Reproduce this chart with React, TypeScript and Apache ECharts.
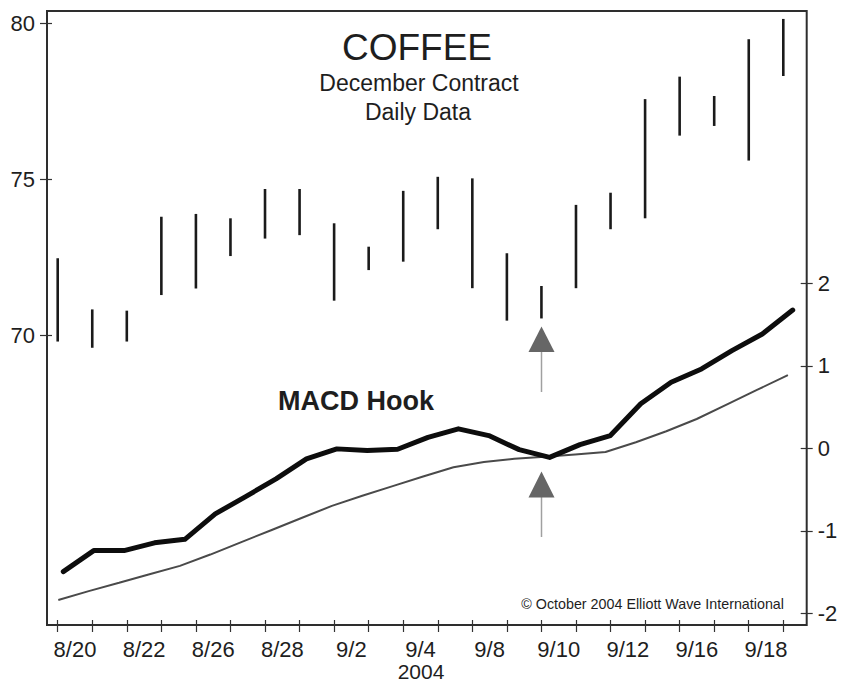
import React, { useEffect, useRef } from "react";
import * as echarts from "echarts";

// Trading days (one high-low bar each)
const barDays = [
  "8/19", "8/20", "8/23", "8/24", "8/25", "8/26", "8/27", "8/30", "8/31", "9/1", "9/2",
  "9/3", "9/7", "9/8", "9/9", "9/10", "9/13", "9/14", "9/15", "9/16", "9/17", "9/20",
];
const barHighs = [
  72.47, 70.83, 70.79, 73.8, 73.89, 73.75, 74.69, 74.69, 73.59, 72.84, 74.63,
  75.08, 75.03, 72.63, 71.58, 74.18, 74.57, 77.57, 78.29, 77.67, 79.49, 80.14,
];
const barLows = [
  69.8, 69.6, 69.8, 71.29, 71.5, 72.54, 73.1, 73.21, 71.11, 72.09, 72.36,
  73.4, 71.51, 70.47, 70.54, 71.51, 73.4, 73.75, 76.4, 76.71, 75.6, 78.31,
];

// Tick labels of the date axis
const dateLabels = ["8/20", "8/22", "8/26", "8/28", "9/2", "9/4", "9/8", "9/10", "9/12", "9/16", "9/18"];

// MACD (thick) and signal (thin) lines
const macdSteps = [
  "s1", "s2", "s3", "s4", "s5", "s6", "s7", "s8", "s9", "s10", "s11", "s12", "s13",
  "s14", "s15", "s16", "s17", "s18", "s19", "s20", "s21", "s22", "s23", "s24", "s25",
];
const macdValues = [
  -1.495, -1.24, -1.24, -1.146, -1.103, -0.795, -0.585, -0.37, -0.128, -0.007, -0.028, -0.012, 0.133,
  0.236, 0.154, -0.016, -0.11, 0.045, 0.154, 0.539, 0.801, 0.962, 1.184, 1.386, 1.676,
];
const signalValues = [
  -1.838, -1.731, -1.63, -1.527, -1.425, -1.288, -1.14, -0.993, -0.845, -0.698, -0.575, -0.458, -0.341,
  -0.229, -0.167, -0.127, -0.103, -0.074, -0.045, 0.074, 0.207, 0.355, 0.533, 0.711, 0.886,
];

const priceMin = 70;
const priceMax = 80;
const priceStep = 5;
const macdMin = -2;
const macdMax = 2;
const macdStep = 1;

const FONT = '"Liberation Sans", Arial, Helvetica, sans-serif';
const INK = "#1e1e1e";

export default function App() {
  const ref = useRef<HTMLDivElement>(null);

  useEffect(() => {
    if (!ref.current) return;
    const chart = echarts.init(ref.current, undefined, { renderer: "svg" });

    const W = 849;
    const H = 683;
    const frame = { l: 47, t: 11, r: 806.7, b: 625 };
    const price = { l: 57.7, r: 783.3, t: 23.3, b: 335.3 };
    const lab = { l: 40.45, r: 800.55 };
    const macdG = { l: 63.3, r: 792.7, t: 283.3, b: 613.3 };
    const sigG = { l: 58.3, r: 787.9 };

    const hiddenCat = (gridIndex: number, data: string[], boundaryGap = false) => ({
      type: "category",
      gridIndex,
      data,
      boundaryGap,
      show: false,
    });

    const option: any = {
      animation: false,
      backgroundColor: "#ffffff",
      textStyle: { fontFamily: FONT },
      grid: [
        {
          left: frame.l, top: frame.t, width: frame.r - frame.l, height: frame.b - frame.t,
          show: true, borderColor: "#2e2e2e", borderWidth: 2, backgroundColor: "transparent",
        },
        { left: price.l, right: W - price.r, top: price.t, bottom: H - price.b, show: false },
        { left: lab.l, right: W - lab.r, top: price.t, bottom: H - price.b, show: false },
        { left: macdG.l, right: W - macdG.r, top: macdG.t, bottom: H - macdG.b, show: false },
        { left: sigG.l, right: W - sigG.r, top: macdG.t, bottom: H - macdG.b, show: false },
      ],
      xAxis: [
        {
          type: "category", gridIndex: 1, data: barDays, boundaryGap: false, position: "bottom",
          offset: frame.b - price.b,
          axisLine: { show: false },
          axisTick: { show: true, interval: 0, inside: false, length: 7, lineStyle: { color: "#333", width: 1.2 } },
          axisLabel: { show: false },
          splitLine: { show: false },
        },
        {
          type: "category", gridIndex: 1, data: barDays, boundaryGap: false, position: "bottom",
          offset: frame.b - price.b,
          axisLine: { show: false },
          axisTick: { show: true, interval: 0, inside: true, length: 5, lineStyle: { color: "#333", width: 1.2 } },
          axisLabel: { show: false },
          splitLine: { show: false },
        },
        {
          type: "category", gridIndex: 2, data: dateLabels, boundaryGap: true, position: "bottom",
          offset: frame.b - price.b,
          axisLine: { show: false },
          axisTick: { show: false },
          axisLabel: { show: true, interval: 0, margin: 15, fontSize: 22, lineHeight: 18, color: INK, fontFamily: FONT },
          splitLine: { show: false },
        },
        hiddenCat(3, macdSteps),
        hiddenCat(4, macdSteps),
      ],
      yAxis: [
        {
          type: "value", gridIndex: 1, min: priceMin, max: priceMax, interval: priceStep, position: "left",
          offset: price.l - frame.l,
          axisLine: { show: false },
          axisTick: { show: true, inside: false, length: 7, lineStyle: { color: "#333", width: 1.2 } },
          axisLabel: { show: true, margin: 12, fontSize: 22, color: INK, fontFamily: FONT },
          splitLine: { show: false },
        },
        {
          type: "value", gridIndex: 1, min: priceMin, max: priceMax, interval: priceStep, position: "left",
          offset: price.l - frame.l,
          axisLine: { show: false },
          axisTick: { show: true, inside: true, length: 5, lineStyle: { color: "#333", width: 1.2 } },
          axisLabel: { show: false },
          splitLine: { show: false },
        },
        { type: "value", gridIndex: 2, min: 0, max: 1, show: false },
        {
          type: "value", gridIndex: 3, min: macdMin, max: macdMax, interval: macdStep, position: "right",
          offset: frame.r - macdG.r,
          axisLine: { show: false },
          axisTick: { show: true, inside: false, length: 6, lineStyle: { color: "#333", width: 1.2 } },
          axisLabel: { show: true, margin: 11, fontSize: 22, color: INK, fontFamily: FONT },
          splitLine: { show: false },
        },
        {
          type: "value", gridIndex: 3, min: macdMin, max: macdMax, interval: macdStep, position: "right",
          offset: frame.r - macdG.r,
          axisLine: { show: false },
          axisTick: { show: true, inside: true, length: 6, lineStyle: { color: "#333", width: 1.2 } },
          axisLabel: { show: false },
          splitLine: { show: false },
        },
        { type: "value", gridIndex: 4, min: macdMin, max: macdMax, show: false },
      ],
      series: [
        {
          name: "Coffee",
          type: "custom",
          xAxisIndex: 0,
          yAxisIndex: 0,
          clip: false,
          encode: { x: 0, y: [1, 2] },
          data: barDays.map((_, i) => [i, barLows[i], barHighs[i]]),
          renderItem: (params: any, api: any) => {
            const lo = api.coord([api.value(0), api.value(1)]);
            const hi = api.coord([api.value(0), api.value(2)]);
            return {
              type: "line",
              shape: { x1: lo[0], y1: lo[1], x2: hi[0], y2: hi[1] },
              style: { stroke: "#1a1a1a", lineWidth: 2.6 },
            };
          },
          z: 3,
        },
        {
          name: "Signal",
          type: "line",
          xAxisIndex: 4,
          yAxisIndex: 5,
          data: signalValues,
          showSymbol: false,
          symbol: "none",
          lineStyle: { color: "#4a4a4a", width: 2 },
          z: 2,
        },
        {
          name: "MACD",
          type: "line",
          xAxisIndex: 3,
          yAxisIndex: 3,
          data: macdValues,
          showSymbol: false,
          symbol: "none",
          lineStyle: { color: "#0d0d0d", width: 5, join: "round", cap: "round" },
          z: 4,
        },
      ],
      graphic: [
        {
          type: "text", x: 417, y: 47, z: 10,
          style: { text: "COFFEE", font: `37px ${FONT}`, fill: INK, textAlign: "center", textVerticalAlign: "middle" },
        },
        {
          type: "text", x: 419, y: 83, z: 10,
          style: { text: "December Contract", font: `23px ${FONT}`, fill: INK, textAlign: "center", textVerticalAlign: "middle" },
        },
        {
          type: "text", x: 418, y: 112, z: 10,
          style: { text: "Daily Data", font: `23px ${FONT}`, fill: INK, textAlign: "center", textVerticalAlign: "middle" },
        },
        {
          type: "text", x: 356, y: 401, z: 10,
          style: { text: "MACD Hook", font: `bold 27px ${FONT}`, fill: INK, textAlign: "center", textVerticalAlign: "middle" },
        },
        {
          type: "text", x: 784, y: 604, z: 10,
          style: { text: "© October 2004 Elliott Wave International", font: `14.3px ${FONT}`, fill: INK, textAlign: "right", textVerticalAlign: "middle" },
        },
        {
          type: "text", x: 421, y: 671.5, z: 10,
          style: { text: "2004", font: `21px ${FONT}`, fill: INK, textAlign: "center", textVerticalAlign: "middle" },
        },
        {
          type: "line", z: 9,
          shape: { x1: 541.5, y1: 350, x2: 541.5, y2: 392 },
          style: { stroke: "#a0a0a0", lineWidth: 1.5 },
        },
        {
          type: "polygon", z: 10,
          shape: { points: [[541.5, 326.5], [528.5, 352], [554.5, 352]] },
          style: { fill: "#666666" },
        },
        {
          type: "line", z: 9,
          shape: { x1: 541.5, y1: 495, x2: 541.5, y2: 537 },
          style: { stroke: "#a0a0a0", lineWidth: 1.5 },
        },
        {
          type: "polygon", z: 10,
          shape: { points: [[541.5, 471.5], [528.5, 497.5], [554.5, 497.5]] },
          style: { fill: "#666666" },
        },
      ],
    };

    chart.setOption(option);
    return () => chart.dispose();
  }, []);

  return (
    <div
      ref={ref}
      style={{ position: "fixed", left: 0, top: 0, width: 849, height: 683, background: "#fff" }}
    />
  );
}
